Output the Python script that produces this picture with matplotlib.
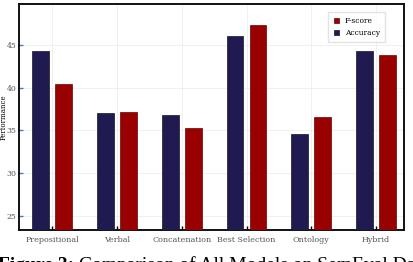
import matplotlib.pyplot as plt
import numpy as np

models = ['Prepositional', 'Verbal', 'Concatenation', 'Best Selection', 'Ontology', 'Hybrid']
accuracy = [44.3, 37.1, 36.8, 46.1, 34.6, 44.3]
fscore = [40.4, 37.2, 35.3, 47.3, 36.6, 43.8]
yticks = [25, 30, 35, 40, 45]

navy = '#1f1a4f'
red = '#990000'

fig = plt.figure(figsize=(4.13, 2.62), dpi=100)
ax = fig.add_axes([19 / 413, 1 - 230 / 262, 385 / 413, 226 / 262])

x = np.arange(len(models))
w = 0.26
ax.bar(x - 0.177, accuracy, w, color=navy, edgecolor='#15112f', linewidth=0.5,
       label='Accuracy', zorder=3)
ax.bar(x + 0.177, fscore, w, color=red, edgecolor='#6a0000', linewidth=0.5,
       label='F-score', zorder=3)

ax.set_xlim(-0.51, 5.43)
ax.set_ylim(23.35, 49.8)
ax.set_xticks(x)
ax.set_xticklabels(models, family='DejaVu Serif', fontsize=5.8, color='#555555')
ax.set_yticks(yticks)
ax.set_yticklabels(yticks, family='DejaVu Serif', fontsize=5.6, color='#555555')
ax.tick_params(axis='y', direction='in', length=3, width=1, color='#3a7bd5', pad=2)
ax.tick_params(axis='x', direction='in', length=3, width=1, color='black', pad=4)
ax.set_ylabel('Performance', family='DejaVu Serif', fontsize=5, labelpad=0)
ax.yaxis.set_label_coords(-0.03, 0.5)
ax.grid(color='#eeeeee', linewidth=0.6, zorder=0)
for s in ax.spines.values():
    s.set_linewidth(1.4)
    s.set_color('#111111')

handles, labels = ax.get_legend_handles_labels()
ax.legend(handles[::-1], labels[::-1], loc='upper right', prop={'family': 'DejaVu Serif', 'size': 5.4},
          handlelength=0.7, handleheight=0.7, borderpad=0.7, labelspacing=0.5,
          fancybox=False, edgecolor='#dddddd', bbox_to_anchor=(0.961, 0.982))

# caption, mostly cut off at the bottom edge like the reference
cy = -8 / 262
t1 = fig.text(-0.004, cy, 'Figure 3:', fontsize=14, family='Liberation Serif',
              weight='bold', va='baseline')
fig.canvas.draw()
bb = t1.get_window_extent()
fig.text(bb.x1 / fig.bbox.width + 0.012, cy, 'Comparison of All Models on SemEval Data',
         fontsize=14, family='Liberation Serif', va='baseline')

fig.savefig('out.png', dpi=100)
